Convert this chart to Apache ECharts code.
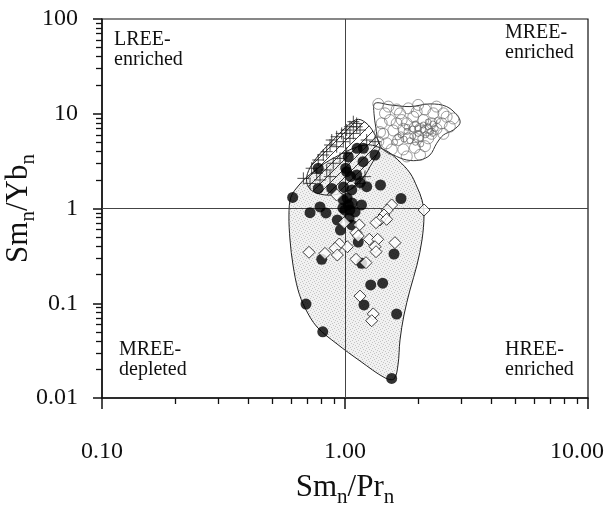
<!DOCTYPE html>
<html>
<head>
<meta charset="utf-8">
<script src="https://cdn.jsdelivr.net/npm/echarts@6/dist/echarts.min.js"></script>
<style>html,body{margin:0;padding:0;background:#fff;}#chart{width:606px;height:510px;}</style>
</head>
<body>
<div id="chart"></div>
<script>
// ---- tick values ----
const xMajorTicks = [0.1, 1, 10];
const xMinorTicks = [0.2,0.3,0.4,0.5,0.6,0.7,0.8,0.9,2,3,4,5,6,7,8,9];
const yMajorTicks = [0.01, 0.1, 1, 10, 100];
const yMinorTicks = [0.02,0.03,0.04,0.05,0.06,0.07,0.08,0.09,0.2,0.3,0.4,0.5,0.6,0.7,0.8,0.9,2,3,4,5,6,7,8,9,20,30,40,50,60,70,80,90];
const yTickLabels = {"0.01":"0.01","0.1":"0.1","1":"1","10":"10","100":"100"};

// ---- filled circles (Sm/Pr, Sm/Yb) ----
const filledX = [0.609,0.718,0.789,0.835,0.776,0.776,0.882,0.986,1.066,1.153,1.228,1.40,1.70,0.984,1.032,1.048,1.169,0.930,0.958,1.066,1.134,0.802,1.171,1.591,1.276,1.429,0.691,1.197,1.631,0.810,1.556,1.016,1.117,1.186,1.032,1.329,1.121,1.19,1.007,1.055,1.02,1.07,1.00,1.10,1.04,0.98];
const filledY = [1.31,0.903,1.04,0.897,2.66,1.63,1.63,1.69,1.57,1.88,1.70,1.77,1.275,1.23,1.09,0.964,1.09,0.756,0.593,0.670,0.443,0.291,0.264,0.331,0.156,0.163,0.098,0.096,0.077,0.050,0.0161,2.45,2.26,3.12,3.5,3.67,4.32,4.32,2.66,2.17,1.29,1.14,0.96,0.92,0.79,1.01];

// ---- open diamonds ----
const diamondX = [1.556,1.493,1.447,1.393,1.342,1.484,2.115,0.993,1.145,1.110,1.134,1.259,1.363,1.329,1.342,1.605,1.022,0.947,0.910,0.930,0.827,0.711,1.110,1.220,1.153,1.307,1.288,0.924];
const diamondY = [1.09,0.964,0.854,0.756,0.708,0.769,0.964,0.708,0.670,0.555,0.513,0.473,0.473,0.395,0.350,0.436,0.395,0.422,0.380,0.323,0.336,0.345,0.291,0.268,0.119,0.0772,0.0654,1.39];

// ---- crosses ----
const crossX = [0.674,0.729,0.776,0.814,0.868,0.882,0.924,0.969,1.016,1.048,1.117,1.153,1.228,1.329,0.841,0.924,0.984,1.048,1.082,0.765,0.841,0.895,0.954,1.016,0.718,0.789,0.868,1.208,1.153,1.117,1.082];
const crossY = [2.08,2.66,3.25,3.67,4.68,5.28,5.72,6.2,6.73,7.29,7.9,6.73,5.28,5.07,3.98,4.49,5.07,5.5,6.2,2.35,2.55,3.0,3.38,3.82,1.84,2.0,2.17,2.17,1.84,7.29,8.24];

// ---- open circles (large) ----
const ringX = [1.371,1.461,1.632,1.822,1.972,2.134,2.31,2.54,2.79,1.416,1.531,1.711,1.91,2.10,2.27,2.50,2.70,1.438,1.58,1.738,1.94,2.17,2.38,1.484,1.656,1.822,2.00,2.20,1.556,1.738,1.94,2.134,1.795,2.036,1.371,1.508,2.00,2.38,2.62,1.632,1.795,2.54,2.27,1.393,1.684,2.036];
const ringY = [12.7,10.1,11.1,11.4,10.5,11.1,10.1,10.1,8.91,7.93,8.59,8.59,9.3,8.59,7.93,7.93,7.31,6.14,6.66,6.93,7.21,6.66,6.93,4.88,5.28,5.50,5.73,5.50,4.20,4.20,4.37,4.55,3.54,3.68,5.08,11.9,12.4,11.9,9.3,7.93,7.93,6.14,6.14,6.4,10.1,6.93];

// ---- open circles (small, dense core) ----
const dotX = [1.70,1.80,1.90,2.00,2.10,2.20,2.30,1.85,1.95,2.05,2.15,2.25,1.75,1.65,2.0,2.1,2.2,1.9,1.8,2.35,2.4,2.05,1.6,2.3,1.95];
const dotY = [6.0,6.5,5.8,6.2,6.8,7.3,7.8,5.2,5.0,5.5,6.0,6.5,5.4,5.7,7.0,7.6,8.2,6.9,7.2,7.0,8.5,4.8,5.0,6.2,7.8];

// ---- field outlines ----
const grayFieldX = [0.588,0.599,0.647,0.704,0.868,1.209,1.461,1.652,1.851,1.978,2.074,2.114,2.074,1.978,1.851,1.749,1.684,1.652,1.591,1.461,1.153,0.927,0.767,0.685,0.641,0.611,0.594];
const grayFieldY = [0.854,1.32,1.77,2.20,3.25,4.68,4.14,3.25,2.37,1.69,1.23,0.854,0.465,0.253,0.138,0.0752,0.0410,0.0223,0.0159,0.0163,0.0246,0.0372,0.0562,0.0891,0.138,0.253,0.465];
const hatchFieldX = [1.134,1.247,1.329,1.393,1.371,1.267,1.171,1.048,0.895,0.765,0.706,0.696,0.729,0.802,0.910,1.032];
const hatchFieldY = [8.74,7.61,5.97,4.68,3.98,2.76,2.00,1.57,1.39,1.45,1.70,2.17,2.88,3.98,5.51,7.61];
const ringFieldX = [1.329,1.531,1.851,2.237,2.62,2.925,2.97,2.79,2.54,2.385,2.237,2.036,1.795,1.58,1.438,1.371,1.341,1.316];
const ringFieldY = [12.9,12.4,11.9,12.7,11.9,9.3,7.9,6.74,5.96,4.88,3.67,3.25,3.25,3.67,4.15,5.07,7.03,10.1];

const zip = (a, b) => a.map((v, i) => [v, b[i]]);
const SERIF = '"Liberation Serif","DejaVu Serif",serif';

function makeStipple() {
  const c = document.createElement('canvas');
  c.width = 6; c.height = 6;
  const g = c.getContext('2d');
  g.fillStyle = '#f1f1f1'; g.fillRect(0, 0, 6, 6);
  g.fillStyle = '#c4c4c4';
  [[0,0],[3,1],[1,3],[4,4],[5,2],[2,5]].forEach(p => g.fillRect(p[0], p[1], 1, 1));
  return {image: c, repeat: 'repeat'};
}
function makeHatch() {
  const c = document.createElement('canvas');
  c.width = 9; c.height = 9;
  const g = c.getContext('2d');
  g.strokeStyle = '#222'; g.lineWidth = 0.9;
  g.beginPath();
  g.moveTo(0, 9); g.lineTo(9, 0);
  g.moveTo(-1, 1); g.lineTo(1, -1);
  g.moveTo(8, 10); g.lineTo(10, 8);
  g.stroke();
  return {image: c, repeat: 'repeat'};
}

function fieldSeries(xs, ys, style, z) {
  return {
    type: 'custom', silent: true, z: z,
    data: [[1, 1]],
    renderItem: (params, api) => {
      const pts = xs.map((x, i) => api.coord([x, ys[i]]));
      return {type: 'polygon', shape: {points: pts, smooth: 0.35}, style: style};
    }
  };
}

const chart = echarts.init(document.getElementById('chart'), null, {renderer: 'canvas'});
const logAxisCommon = {type: 'log', logBase: 10};
const titleRich = {
  m: {fontFamily: SERIF, fontSize: 31, color: '#111', lineHeight: 36, verticalAlign: 'top'},
  s: {fontFamily: SERIF, fontSize: 21, color: '#111', lineHeight: 21, verticalAlign: 'bottom'}
};
const option = {
  animation: false,
  backgroundColor: '#fff',
  grid: {left: 102, top: 19, right: 18, bottom: 112, containLabel: false, outerBoundsMode: 'none',
    show: true, borderColor: '#111', borderWidth: 1.2, backgroundColor: 'transparent'},
  xAxis: [
    Object.assign({}, logAxisCommon, {
      min: 0.1, max: 10, position: 'bottom',
      axisLine: {show: true, lineStyle: {color: '#111', width: 1.5}},
      axisTick: {show: true, inside: false, length: 11, customValues: xMajorTicks, lineStyle: {color: '#111', width: 1.5}},
      axisLabel: {show: true, customValues: xMajorTicks, margin: 42, fontFamily: SERIF, fontSize: 24, color: '#111',
        formatter: v => Number(v) >= 10 ? '{r|' + Number(v).toFixed(2) + '}' : Number(v).toFixed(2),
        rich: {r: {fontFamily: SERIF, fontSize: 24, color: '#111', padding: [0, 22, 0, 0]}}},
      splitLine: {show: false},
      name: '{m|Sm}{s|n}{m|/Pr}{s|n}', nameLocation: 'middle', nameGap: 74, nameMoveOverlap: false,
      nameTextStyle: {rich: titleRich}
    }),
    Object.assign({}, logAxisCommon, {
      min: 0.1, max: 10, position: 'bottom',
      axisLine: {show: false},
      axisTick: {show: true, inside: false, length: 6, customValues: xMinorTicks, lineStyle: {color: '#111', width: 1.3}},
      axisLabel: {show: false}, splitLine: {show: false}
    })
  ],
  yAxis: [
    Object.assign({}, logAxisCommon, {
      min: 0.01, max: 100, position: 'left',
      axisLine: {show: true, lineStyle: {color: '#111', width: 1.5}},
      axisTick: {show: true, inside: false, length: 9, customValues: yMajorTicks, lineStyle: {color: '#111', width: 1.5}},
      axisLabel: {show: true, customValues: yMajorTicks, margin: 24, fontFamily: SERIF, fontSize: 24, color: '#111', formatter: v => yTickLabels[String(Number(v))] || String(v)},
      splitLine: {show: false},
      name: '{m|Sm}{s|n}{m|/Yb}{s|n}', nameLocation: 'middle', nameGap: 63, nameRotate: 90, nameMoveOverlap: false,
      nameTextStyle: {rich: titleRich}
    }),
    Object.assign({}, logAxisCommon, {
      min: 0.01, max: 100, position: 'left',
      axisLine: {show: false},
      axisTick: {show: true, inside: false, length: 6, customValues: yMinorTicks, lineStyle: {color: '#111', width: 1.3}},
      axisLabel: {show: false}, splitLine: {show: false}
    })
  ],
  graphic: [
    {type: 'text', left: 114, top: 30, z: 100, style: {text: 'LREE-\nenriched', fontFamily: SERIF, fontSize: 20, lineHeight: 20, fill: '#111'}},
    {type: 'text', left: 505, top: 23, z: 100, style: {text: 'MREE-\nenriched', fontFamily: SERIF, fontSize: 20, lineHeight: 20, fill: '#111'}},
    {type: 'text', left: 119, top: 340, z: 100, style: {text: 'MREE-\ndepleted', fontFamily: SERIF, fontSize: 20, lineHeight: 20, fill: '#111'}},
    {type: 'text', left: 505, top: 340, z: 100, style: {text: 'HREE-\nenriched', fontFamily: SERIF, fontSize: 20, lineHeight: 20, fill: '#111'}}
  ],
  series: [
    fieldSeries(grayFieldX, grayFieldY, {fill: makeStipple(), stroke: '#222', lineWidth: 1}, 1),
    fieldSeries(hatchFieldX, hatchFieldY, {fill: makeHatch(), stroke: '#222', lineWidth: 1}, 2),
    fieldSeries(ringFieldX, ringFieldY, {fill: 'transparent', stroke: '#333', lineWidth: 1}, 2),
    {
      type: 'line', data: [], z: 3, silent: true,
      markLine: {silent: true, symbol: 'none', label: {show: false}, lineStyle: {color: '#444', width: 1, type: 'solid'},
        data: [{xAxis: 1}, {yAxis: 1}]}
    },
    {type: 'scatter', name: 'small rings', data: zip(dotX, dotY), symbol: 'circle', symbolSize: 6, z: 4,
      itemStyle: {color: 'transparent', borderColor: '#555', borderWidth: 0.8}},
    {type: 'scatter', name: 'rings', data: zip(ringX, ringY), symbol: 'circle', symbolSize: 11, z: 4,
      itemStyle: {color: 'transparent', borderColor: '#666', borderWidth: 0.8}},
    {type: 'scatter', name: 'crosses', data: zip(crossX, crossY), symbol: 'path://M0,5L10,5M5,0L5,10', symbolSize: 12, z: 4,
      itemStyle: {color: 'transparent', borderColor: '#222', borderWidth: 1}},
    {type: 'scatter', name: 'filled', data: zip(filledX, filledY), symbol: 'circle', symbolSize: 11, z: 5,
      itemStyle: {color: '#000', borderColor: '#000', borderWidth: 0}},
    {type: 'scatter', name: 'diamonds', data: zip(diamondX, diamondY), symbol: 'diamond', symbolSize: [12, 12], z: 6,
      itemStyle: {color: '#fff', borderColor: '#111', borderWidth: 1}}
  ]
};
chart.setOption(option);
</script>
</body>
</html>
